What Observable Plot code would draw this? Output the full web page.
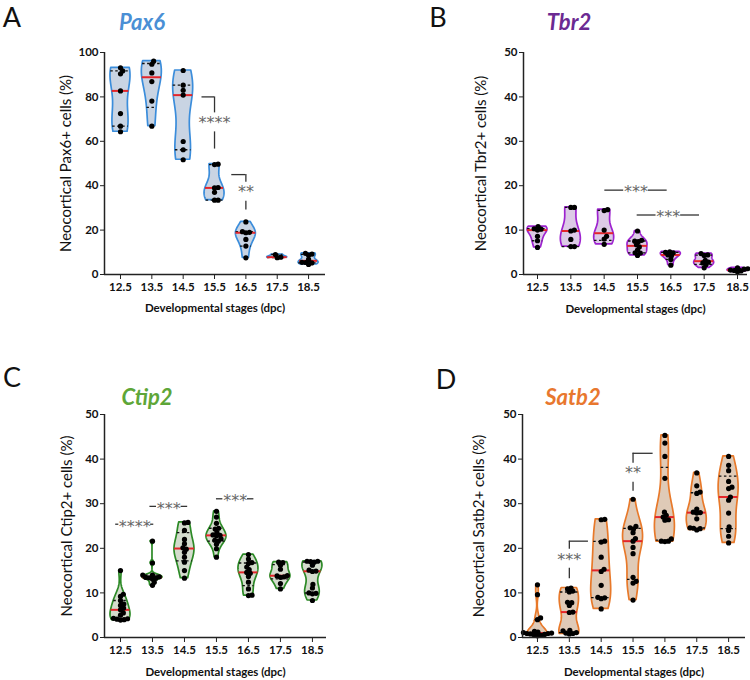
<!DOCTYPE html>
<html><head><meta charset="utf-8">
<script src="https://cdn.jsdelivr.net/npm/d3@7"></script>
<script src="https://cdn.jsdelivr.net/npm/@observablehq/plot@0.6"></script>
<style>
body{margin:0;background:#fff;}
#root{position:relative;width:750px;height:680px;font-family:Lato,"Open Sans",sans-serif;overflow:hidden;}
.panel{position:absolute;}
.letter{position:absolute;font-size:27px;color:#111;line-height:1;transform:translate(-50%,-50%);}
.title{position:absolute;font-weight:700;font-style:italic;font-size:22px;line-height:1;transform:translate(-50%,-50%);white-space:nowrap;}
g[aria-label="stars"] text{letter-spacing:0px;}
</style></head><body><div id="root"></div>
<script>
const stages = [12.5, 13.5, 14.5, 15.5, 16.5, 17.5, 18.5];
const xLabel = "Developmental stages (dpc)";

// Values per stage (same order as stages)
const pax6Values = [
  [93.1, 91.7, 90.4, 82.7, 72.5, 66.8, 64.3],
  [96.1, 94.7, 90.8, 86.9, 78.1, 66.8],
  [91.9, 85.3, 83.0, 80.8, 59.9, 56.2, 51.7],
  [49.7, 49.5, 39.2, 39.0, 37.0, 33.5, 33.5],
  [23.7, 19.3, 19.0, 18.8, 15.8, 12.8, 7.5],
  [9.0, 7.8, 7.6],
  [9.5, 9.2, 8.7, 6.8, 5.5, 5.4, 5.2, 4.5]
];
const tbr2Values = [
  [10.8, 10.3, 10.2, 10.0, 8.6, 7.6, 6.1],
  [15.1, 15.1, 10.0, 9.8, 7.9, 6.3, 6.3],
  [14.6, 14.4, 10.0, 8.6, 8.0, 6.8],
  [9.8, 7.7, 7.5, 7.4, 6.7, 6.2, 5.5, 4.9, 4.8, 4.3],
  [5.1, 5.0, 4.9, 4.4, 4.2, 3.4, 2.1],
  [4.7, 4.4, 4.3, 3.2, 2.8, 2.6, 2.2, 1.5],
  [1.5, 1.3, 1.2, 1.0, 0.9, 0.8, 0.6]
];
const ctip2Values = [
  [15.0, 9.7, 9.2, 8.3, 7.5, 7.2, 6.6, 6.2, 5.5, 5.0, 4.3, 4.2, 4.1, 4.0, 3.9],
  [21.6, 16.7, 14.0, 14.0, 13.6, 13.5, 13.4, 13.3, 13.1, 12.4, 11.7],
  [25.8, 25.7, 24.0, 22.0, 21.0, 20.1, 19.8, 19.1, 18.0, 16.9, 15.0, 13.3],
  [28.3, 27.0, 25.6, 24.5, 24.3, 23.6, 23.0, 22.9, 22.8, 22.1, 21.8, 21.6, 20.9, 19.9, 18.0],
  [18.6, 17.6, 16.8, 16.6, 15.8, 15.2, 14.6, 14.4, 13.7, 12.4, 10.9, 9.5, 9.4],
  [16.9, 16.8, 16.2, 15.3, 13.9, 13.8, 13.6, 13.5, 12.1, 10.9],
  [17.1, 17.1, 17.0, 16.9, 16.2, 15.1, 14.9, 14.8, 11.9, 11.1, 10.0, 9.9, 9.8, 8.3]
];
const satb2Values = [
  [11.8, 9.6, 4.4, 4.0, 1.4, 1.2, 1.1, 1.0, 0.9, 0.9, 0.8, 0.7, 0.6, 0.5, 0.4],
  [11.1, 10.9, 10.4, 10.2, 7.9, 7.8, 7.2, 5.7, 5.6, 1.6, 1.5, 1.1, 1.0, 0.9, 0.8],
  [26.5, 26.4, 21.6, 21.4, 18.0, 15.3, 14.8, 11.7, 9.0, 8.9, 8.7, 6.4],
  [31.0, 24.9, 24.6, 24.3, 23.5, 22.2, 21.6, 20.2, 18.8, 13.5, 12.6, 12.2, 8.4],
  [45.3, 43.6, 40.6, 35.7, 28.1, 27.4, 27.0, 26.4, 26.3, 22.1, 21.6, 21.6, 21.5],
  [36.9, 34.0, 32.6, 32.3, 28.8, 28.1, 28.0, 27.9, 26.6, 24.6, 24.5, 24.4, 24.1],
  [40.6, 38.6, 37.4, 35.0, 33.7, 33.4, 31.5, 30.8, 27.9, 24.8, 24.0, 22.7, 21.2]
];

// Significance annotations (data units)
const pax6Brackets = [
  {x1: 15.1, x: 15.5, y: 80, yText: 69.2, yEnd: 56.5, label: "****"},
  {x1: 16.05, x: 16.5, y: 45, yText: 38, yEnd: 29, label: "**"}
];
const satb2Brackets = [
  {x1: 14.1, x: 13.5, y: 21.6, yText: 18.0, yEnd: 13.2, label: "***"},
  {x1: 16.13, x: 15.5, y: 41.3, yText: 37.3, yEnd: 32.8, label: "**"}
];
const tbr2Lines = [
  {x1: 14.52, x2: 16.39, y: 19.0, label: "***"},
  {x1: 15.49, x2: 17.36, y: 13.4, label: "***"}
];
const ctip2Lines = [
  {x1: 12.35, x2: 13.54, y: 25.4, label: "****"},
  {x1: 13.42, x2: 14.6, y: 29.4, label: "***"},
  {x1: 15.5, x2: 16.67, y: 31.1, label: "***"}
];

const panels = [
  {letter: "A", title: "Pax6", titleColor: "#4a8fd5", stroke: "#3b8ddb", fill: "#c9d4e3",
   ylabel: "Neocortical Pax6+ cells (%)", values: pax6Values, ymax: 100, yticks: [0,20,40,60,80,100],
   left: 0, top: 0, width: 375, height: 320, ml: 104, mr: 50, mt: 52, mb: 46, xDomain: [11.99, 19.04],
   ylabelDx: -38, xlabelDy: 34, letterPos: [12, 16], titlePos: [142, 22], brackets: pax6Brackets, lines: []},
  {letter: "B", title: "Tbr2", titleColor: "#6b2a92", stroke: "#9d22cf", fill: "#dccae6",
   ylabel: "Neocortical Tbr2+ cells (%)", values: tbr2Values, ymax: 50, yticks: [0,10,20,30,40,50],
   left: 375, top: 0, width: 375, height: 320, ml: 148, mr: 3, mt: 52, mb: 46, xDomain: [12.08, 18.8],
   ylabelDx: -42, xlabelDy: 35, letterPos: [438, 16], titlePos: [569, 22], brackets: [], lines: tbr2Lines},
  {letter: "C", title: "Ctip2", titleColor: "#5ea638", stroke: "#2c8a26", fill: "#d4dccd",
   ylabel: "Neocortical Ctip2+ cells (%)", values: ctip2Values, ymax: 50, yticks: [0,10,20,30,40,50],
   left: 0, top: 330, width: 375, height: 350, ml: 104, mr: 49, mt: 84, mb: 43, xDomain: [12.0, 18.94],
   ylabelDx: -37, xlabelDy: 35, letterPos: [12, 376], titlePos: [147, 397], brackets: [], lines: ctip2Lines},
  {letter: "D", title: "Satb2", titleColor: "#e8772e", stroke: "#e8792a", fill: "#dfcab7",
   ylabel: "Neocortical Satb2+ cells (%)", values: satb2Values, ymax: 50, yticks: [0,10,20,30,40,50],
   left: 375, top: 330, width: 375, height: 350, ml: 147, mr: 5, mt: 84, mb: 43, xDomain: [12.03, 19.03],
   ylabelDx: -43, xlabelDy: 35, letterPos: [446, 378], titlePos: [573, 397], brackets: satb2Brackets, lines: []}
];

function gq(sorted, p) {
  const n = sorted.length;
  const pos = (n + 1) * p;
  if (pos <= 1) return sorted[0];
  if (pos >= n) return sorted[n - 1];
  const lo = Math.floor(pos), f = pos - lo;
  return sorted[lo - 1] + f * (sorted[lo] - sorted[lo - 1]);
}

function beeswarm(vals, ky, diam) {
  const idx = vals.map((v, i) => i).sort((a, b) => vals[a] - vals[b]);
  const placed = [];
  const out = new Array(vals.length).fill(0);
  idx.forEach(i => {
    const yp = vals[i] * ky;
    const intervals = [];
    placed.forEach(p => {
      const dy = Math.abs(p.y - yp);
      if (dy < diam) {
        const h = Math.sqrt(diam * diam - dy * dy);
        intervals.push([p.x - h, p.x + h]);
      }
    });
    const cands = [0];
    intervals.forEach(([a, b]) => { cands.push(a, b); });
    cands.sort((a, b) => Math.abs(a) - Math.abs(b) || b - a);
    let chosen = 0;
    for (const c of cands) {
      if (intervals.every(([a, b]) => c <= a + 1e-6 || c >= b - 1e-6)) { chosen = c; break; }
    }
    placed.push({x: chosen, y: yp});
    out[i] = chosen;
  });
  return out;
}

const root = document.getElementById("root");

panels.forEach(cfg => {
  const innerW = cfg.width - cfg.ml - cfg.mr;
  const innerH = cfg.height - cfg.mt - cfg.mb;
  const kx = innerW / (cfg.xDomain[1] - cfg.xDomain[0]);
  const ky = innerH / cfg.ymax;
  const maxHalf = 10 / kx;

  const violinRows = [], quartRows = [], medRows = [], dotRows = [];
  stages.forEach((s, i) => {
    const raw = cfg.values[i];
    const v = raw.slice().sort((a, b) => a - b);
    const n = v.length;
    const sd = d3.deviation(v) || 1;
    const q1 = gq(v, 0.25), q3 = gq(v, 0.75), med = d3.median(v);
    let spread = Math.min(sd, (q3 - q1) / 1.34);
    if (!(spread > 0)) spread = sd;
    const h = 0.9 * spread * Math.pow(n, -0.2);
    const dens = y => d3.sum(v, x => Math.exp(-0.5 * ((y - x) / h) ** 2));
    const lo = v[0], hi = v[n - 1];
    const ys = d3.range(81).map(k => lo + (hi - lo) * k / 80);
    const ds = ys.map(dens);
    const dmax = d3.max(ds);
    const hw = y => maxHalf * dens(y) / dmax;
    ys.forEach((y, k) => violinRows.push({stage: s, y, x1: s - maxHalf * ds[k] / dmax, x2: s + maxHalf * ds[k] / dmax}));
    [q1, q3].forEach(y => quartRows.push({y, x1: s - hw(y), x2: s + hw(y)}));
    medRows.push({y: med, x1: s - hw(med), x2: s + hw(med)});
    const offs = beeswarm(raw, ky, 3.6);
    raw.forEach((y, j) => dotRows.push({x: s + offs[j] / kx, y}));
  });

  const hSegs = [], vSegs = [], texts = [];
  cfg.brackets.forEach(b => {
    hSegs.push({x1: b.x1, x2: b.x, y: b.y});
    vSegs.push({x: b.x, y1: b.y, y2: b.yText + 8 / ky});
    vSegs.push({x: b.x, y1: b.yText - 11 / ky, y2: b.yEnd});
    texts.push({x: b.x, y: b.yText, label: b.label});
  });
  cfg.lines.forEach(l => {
    const mid = (l.x1 + l.x2) / 2;
    const gap = (l.label.length * 3.6 + 1.5) / kx;
    hSegs.push({x1: l.x1, x2: mid - gap, y: l.y});
    hSegs.push({x1: mid + gap, x2: l.x2, y: l.y});
    texts.push({x: mid, y: l.y, label: l.label});
  });

  const svg = Plot.plot({
    width: cfg.width, height: cfg.height,
    marginLeft: cfg.ml, marginRight: cfg.mr, marginTop: cfg.mt, marginBottom: cfg.mb,
    x: {domain: cfg.xDomain},
    y: {domain: [0, cfg.ymax]},
    style: {fontFamily: "Lato, 'Open Sans', sans-serif", overflow: "visible", background: "transparent"},
    marks: [
      Plot.areaX(violinRows, {y: "y", x1: "x1", x2: "x2", z: "stage", fill: cfg.fill, stroke: cfg.stroke, strokeWidth: 1.7, strokeLinejoin: "round"}),
      Plot.ruleY(quartRows, {y: "y", x1: "x1", x2: "x2", stroke: "#111", strokeWidth: 1.3, strokeDasharray: "2.5,2.5"}),
      Plot.ruleY(medRows, {y: "y", x1: "x1", x2: "x2", stroke: "#e3262b", strokeWidth: 2}),
      Plot.dot(dotRows, {x: "x", y: "y", r: 2.6, fill: "#000", stroke: "none"}),
      Plot.ruleY(hSegs, {x1: "x1", x2: "x2", y: "y", stroke: "#333", strokeWidth: 1.3}),
      Plot.ruleX(vSegs, {x: "x", y1: "y1", y2: "y2", stroke: "#333", strokeWidth: 1.3}),
      Plot.text(texts, {x: "x", y: "y", text: "label", fill: "#666", fontSize: 16, fontFamily: "DejaVu Sans", dy: 2.2, ariaLabel: "stars"}),
      Plot.ruleY([0], {stroke: "#222", strokeWidth: 1.5}),
      Plot.ruleX([cfg.xDomain[0]], {stroke: "#222", strokeWidth: 1.5}),
      Plot.axisY({ticks: cfg.yticks, tickSize: 4, tickPadding: 2, label: null, fontWeight: "bold", fontSize: 11.5, stroke: "#222", fill: "#111"}),
      Plot.axisX({ticks: stages, tickFormat: d => d.toFixed(1), tickSize: 5, tickPadding: 3, label: null, fontWeight: "bold", fontSize: 11.5, stroke: "#222", fill: "#111"}),
      Plot.text([cfg.ylabel], {text: d => d, frameAnchor: "left", textAnchor: "middle", lineAnchor: "middle", rotate: -90, dx: cfg.ylabelDx, fontSize: 15, fill: "#111"}),
      Plot.text([xLabel], {text: d => d, frameAnchor: "bottom", textAnchor: "middle", lineAnchor: "middle", dy: cfg.xlabelDy, fontSize: 11.5, fontWeight: "bold", fill: "#111"})
    ]
  });
  const wrap = document.createElement("div");
  wrap.className = "panel";
  wrap.style.left = cfg.left + "px";
  wrap.style.top = cfg.top + "px";
  wrap.appendChild(svg);
  root.appendChild(wrap);

  const letter = document.createElement("div");
  letter.className = "letter";
  letter.textContent = cfg.letter;
  letter.style.left = cfg.letterPos[0] + "px";
  letter.style.top = cfg.letterPos[1] + "px";
  root.appendChild(letter);

  const title = document.createElement("div");
  title.className = "title";
  title.textContent = cfg.title;
  title.style.color = cfg.titleColor;
  title.style.left = cfg.titlePos[0] + "px";
  title.style.top = cfg.titlePos[1] + "px";
  root.appendChild(title);
});
</script>
</body></html>
